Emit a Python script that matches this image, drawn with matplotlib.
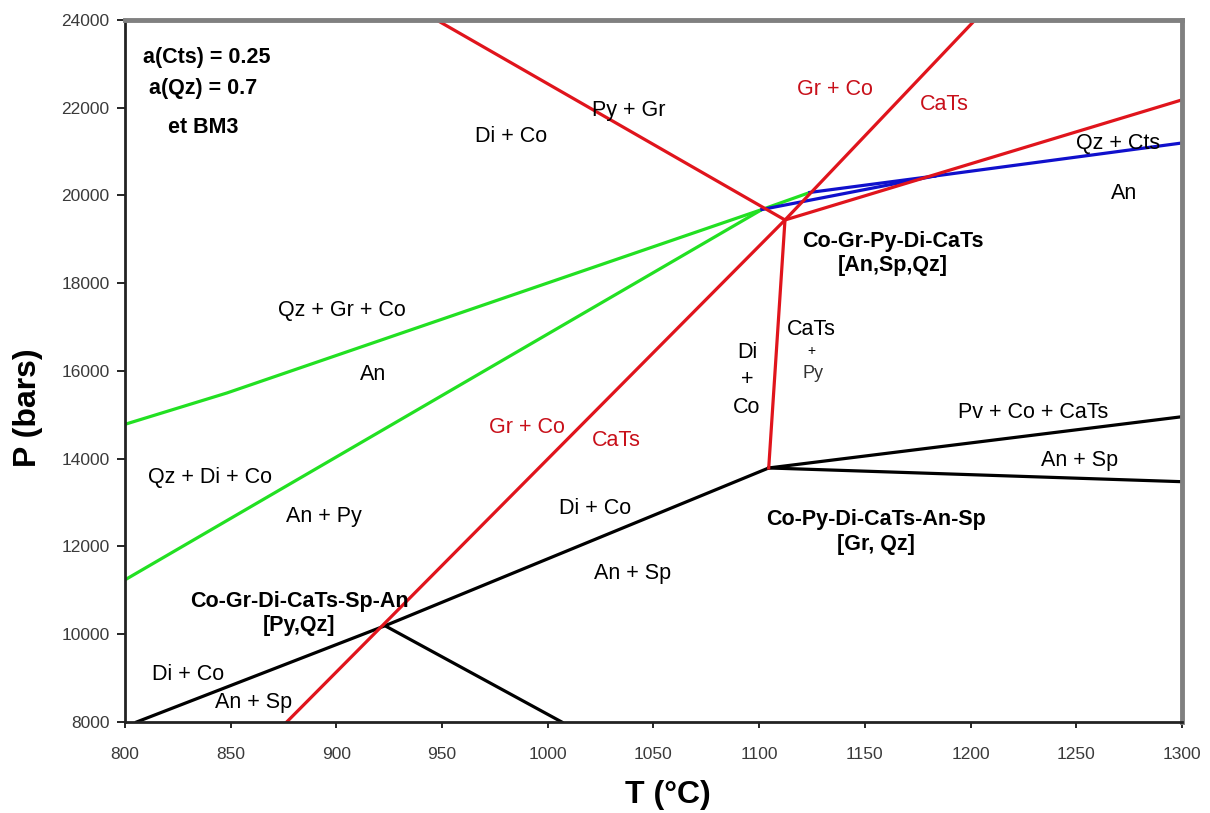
import matplotlib
matplotlib.use("Agg")
import matplotlib.pyplot as plt

plt.rcParams['font.family'] = ['Liberation Sans', 'DejaVu Sans']

# reaction curves, T in degC, P in bars
red_steep_T = [876.5, 1112.2]
red_steep_P = [8000, 19442]
red_upper_T = [1112.2, 1202.1]
red_upper_P = [19442, 24000]
red_shallow_T = [1112.2, 1300]
red_shallow_P = [19442, 22180]
red_pygr_T = [947.4, 1112.2]
red_pygr_P = [24000, 19442]
red_vert_T = [1112.2, 1104.5]
red_vert_P = [19442, 13790]

black_left_T = [805.5, 923.0, 1104.5]
black_left_P = [8000, 10194, 13790]
black_down_T = [923.0, 1006.6]
black_down_P = [10194, 8000]
black_up_right_T = [1104.5, 1300]
black_up_right_P = [13790, 14958]
black_low_right_T = [1104.5, 1300]
black_low_right_P = [13790, 13477]

green_upper_T = [800, 848.2, 1101.3, 1124.0]
green_upper_P = [14785, 15499, 19681, 20070]
green_lower_T = [800, 1101.3]
green_lower_P = [11240, 19681]

blue_a_T = [1101.3, 1183.0]
blue_a_P = [19681, 20444]
blue_b_T = [1124.0, 1183.0]
blue_b_P = [20070, 20444]
blue_c_T = [1183.0, 1300]
blue_c_P = [20444, 21197]

RED = '#e0141c'
RED_TXT = '#c8101a'
GREEN = '#22e022'
BLUE = '#1010cc'

fig = plt.figure(figsize=(12.1, 8.13), dpi=100)
ax = fig.add_axes([125 / 1210, 1 - 722 / 813, (1182 - 125) / 1210, (722 - 20) / 813])

lw = 2.3
for T, P in [(green_upper_T, green_upper_P), (green_lower_T, green_lower_P)]:
    ax.plot(T, P, color=GREEN, lw=lw, solid_capstyle='butt')
for T, P in [(blue_a_T, blue_a_P), (blue_b_T, blue_b_P), (blue_c_T, blue_c_P)]:
    ax.plot(T, P, color=BLUE, lw=lw)
for T, P in [(black_left_T, black_left_P), (black_down_T, black_down_P),
             (black_up_right_T, black_up_right_P), (black_low_right_T, black_low_right_P)]:
    ax.plot(T, P, color='black', lw=lw)
for T, P in [(red_steep_T, red_steep_P), (red_upper_T, red_upper_P),
             (red_shallow_T, red_shallow_P), (red_pygr_T, red_pygr_P),
             (red_vert_T, red_vert_P)]:
    ax.plot(T, P, color=RED, lw=lw)

fs = 15.5
def lab(x, y, s, color='black', size=fs, weight='normal', ls=1.2):
    ax.text(x, y, s, color=color, fontsize=size, fontweight=weight,
            ha='center', va='center', linespacing=ls)

# conditions
lab(838.8, 23150, 'a(Cts) = 0.25', weight='bold')
lab(836.9, 22440, 'a(Qz) = 0.7', weight='bold')
lab(836.9, 21560, 'et BM3', weight='bold')

lab(982.6, 21340, 'Di + Co')
lab(1038.1, 21926, 'Py + Gr')
lab(1135.9, 22405, 'Gr + Co', color=RED_TXT)
lab(1187.4, 22063, 'CaTs', color=RED_TXT)
lab(1269.9, 21190, 'Qz + Cts')
lab(1272.6, 20050, 'An')
lab(1163.4, 18680, 'Co-Gr-Py-Di-CaTs\n[An,Sp,Qz]', weight='bold')
lab(902.8, 17368, 'Qz + Gr + Co')
lab(917.5, 15925, 'An')
lab(840.2, 13568, 'Qz + Di + Co')
lab(894.1, 12695, 'An + Py')
lab(990.2, 14701, 'Gr + Co', color=RED_TXT)
lab(1032.3, 14405, 'CaTs', color=RED_TXT)
lab(1022.3, 12855, 'Di + Co')
lab(1040.3, 11396, 'An + Sp')
lab(1094.2, 15795, 'Di\n+\nCo', ls=1.4)
lab(1124.5, 16950, 'CaTs')
lab(1124.5, 16456, '+', size=10)
lab(1125.5, 15932, 'Py', size=13, color='#333333')
lab(1229.7, 15050, 'Pv + Co + CaTs')
lab(1251.4, 13949, 'An + Sp')
lab(1155.2, 12330, 'Co-Py-Di-CaTs-An-Sp\n[Gr, Qz]', weight='bold')
lab(882.5, 10470, 'Co-Gr-Di-CaTs-Sp-An\n[Py,Qz]', weight='bold')
lab(829.9, 9094, 'Di + Co')
lab(860.7, 8449, 'An + Sp')

ax.set_xlim(800, 1300)
ax.set_ylim(8000, 24000)
ax.set_xticks(range(800, 1301, 50))
ax.set_yticks(range(8000, 24001, 2000))
ax.tick_params(axis='y', direction='out', length=6, width=1.2, pad=5,
               labelsize=12.5, labelcolor='#3a3a3a')
ax.tick_params(axis='x', direction='out', length=4, width=1.2, pad=14,
               labelsize=12.5, labelcolor='#3a3a3a')

for side in ['top', 'right']:
    ax.spines[side].set_color('#808080')
    ax.spines[side].set_linewidth(3.5)
for side in ['left', 'bottom']:
    ax.spines[side].set_color('#222222')
    ax.spines[side].set_linewidth(2)

ax.set_xlabel('T (°C)', fontsize=23, fontweight='bold', va='center')
ax.set_ylabel('P (bars)', fontsize=23, fontweight='bold', va='center')
ax.xaxis.set_label_coords((668 - 125) / 1057, (722 - 795) / 702)
ax.yaxis.set_label_coords((28 - 125) / 1057, (722 - 408) / 702)

fig.savefig('out.png', dpi=100)
